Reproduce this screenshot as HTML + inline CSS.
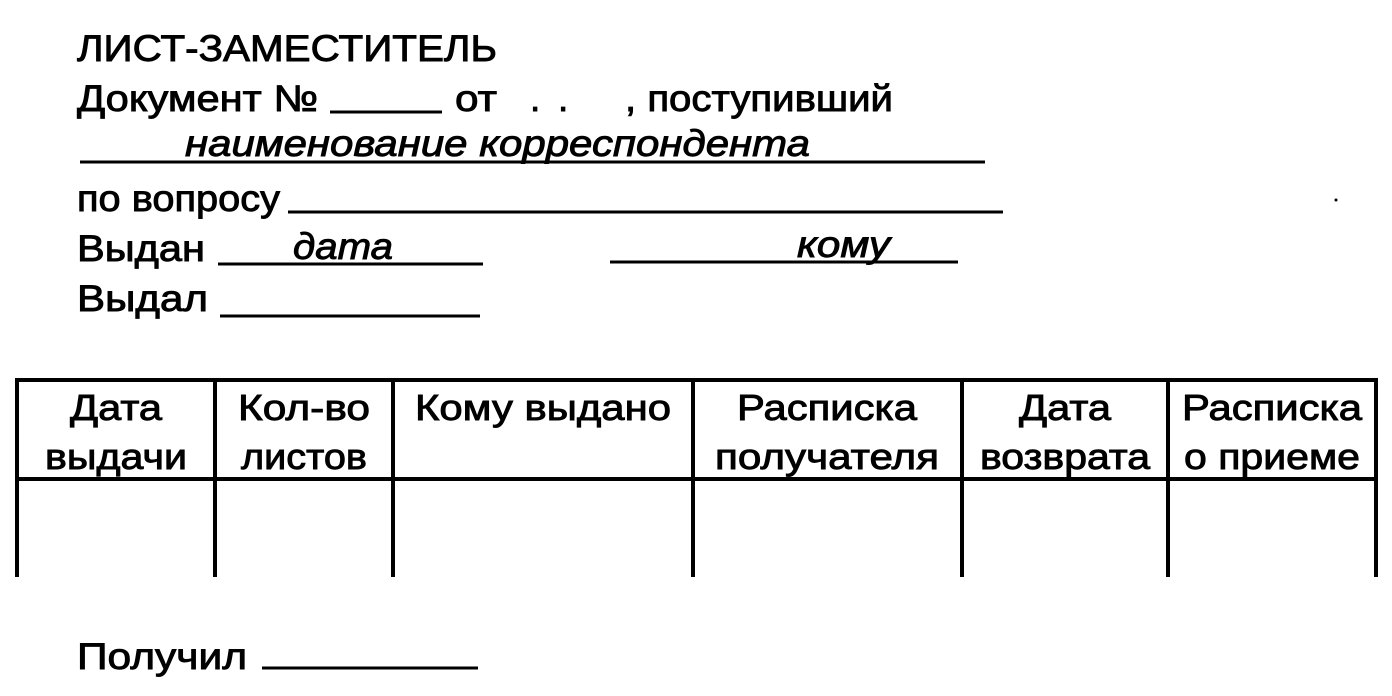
<!DOCTYPE html>
<html><head><meta charset="utf-8"><style>
html,body{margin:0;padding:0;background:#fff;}
svg{display:block}
text{font-family:"Liberation Sans",sans-serif;fill:#000;stroke:#000;stroke-width:0.9;}
</style></head><body>
<svg width="1392" height="696" viewBox="0 0 1392 696" xmlns="http://www.w3.org/2000/svg">
<g font-size="37">
<text x="77" y="61" textLength="420" lengthAdjust="spacingAndGlyphs">ЛИСТ-ЗАМЕСТИТЕЛЬ</text>
<text x="77" y="111" textLength="241" lengthAdjust="spacingAndGlyphs">Документ №</text>
<text x="455" y="111" textLength="42" lengthAdjust="spacingAndGlyphs">от</text>
<text x="530" y="111">.</text>
<text x="558" y="111">.</text>
<text x="625" y="111" textLength="268" lengthAdjust="spacingAndGlyphs">, поступивший</text>
<text x="185" y="156" font-style="italic" textLength="625" lengthAdjust="spacingAndGlyphs">наименование корреспондента</text>
<text x="77" y="211" textLength="203" lengthAdjust="spacingAndGlyphs">по вопросу</text>
<text x="77" y="261" textLength="128" lengthAdjust="spacingAndGlyphs">Выдан</text>
<text x="293" y="259" font-style="italic" textLength="100" lengthAdjust="spacingAndGlyphs">дата</text>
<text x="797" y="257" font-style="italic" textLength="93" lengthAdjust="spacingAndGlyphs">кому</text>
<text x="77" y="311" textLength="131" lengthAdjust="spacingAndGlyphs">Выдал</text>
<text x="77" y="669" textLength="170" lengthAdjust="spacingAndGlyphs">Получил</text>
</g>
<g stroke="#000" stroke-width="3">
<line x1="330" y1="112" x2="442" y2="112"/>
<line x1="80" y1="162" x2="985" y2="162"/>
<line x1="288" y1="212" x2="1003" y2="212"/>
<line x1="218" y1="264" x2="483" y2="264"/>
<line x1="610" y1="262" x2="958" y2="262"/>
<line x1="220" y1="316" x2="480" y2="316"/>
<line x1="262" y1="668" x2="478" y2="668"/>
</g>
<circle cx="1336" cy="200" r="1.5" fill="#000"/>
<g stroke="#000" stroke-width="4">
<line x1="15" y1="380" x2="1378" y2="380"/>
<line x1="15" y1="479" x2="1378" y2="479"/>
<line x1="17" y1="378" x2="17" y2="577"/>
<line x1="215" y1="378" x2="215" y2="577"/>
<line x1="393" y1="378" x2="393" y2="577"/>
<line x1="693" y1="378" x2="693" y2="577"/>
<line x1="962" y1="378" x2="962" y2="577"/>
<line x1="1168" y1="378" x2="1168" y2="577"/>
<line x1="1376" y1="378" x2="1376" y2="577"/>
</g>
<g font-size="36" text-anchor="middle">
<text x="116" y="420" textLength="92" lengthAdjust="spacingAndGlyphs">Дата</text><text x="116" y="469" textLength="142" lengthAdjust="spacingAndGlyphs">выдачи</text>
<text x="304" y="420" textLength="132" lengthAdjust="spacingAndGlyphs">Кол-во</text><text x="304" y="469" textLength="126" lengthAdjust="spacingAndGlyphs">листов</text>
<text x="543" y="420" textLength="256" lengthAdjust="spacingAndGlyphs">Кому выдано</text>
<text x="827" y="420" textLength="180" lengthAdjust="spacingAndGlyphs">Расписка</text><text x="827" y="469" textLength="224" lengthAdjust="spacingAndGlyphs">получателя</text>
<text x="1065" y="420" textLength="92" lengthAdjust="spacingAndGlyphs">Дата</text><text x="1065" y="469" textLength="170" lengthAdjust="spacingAndGlyphs">возврата</text>
<text x="1272" y="420" textLength="180" lengthAdjust="spacingAndGlyphs">Расписка</text><text x="1272" y="469" textLength="176" lengthAdjust="spacingAndGlyphs">о приеме</text>
</g>
</svg>
</body></html>
